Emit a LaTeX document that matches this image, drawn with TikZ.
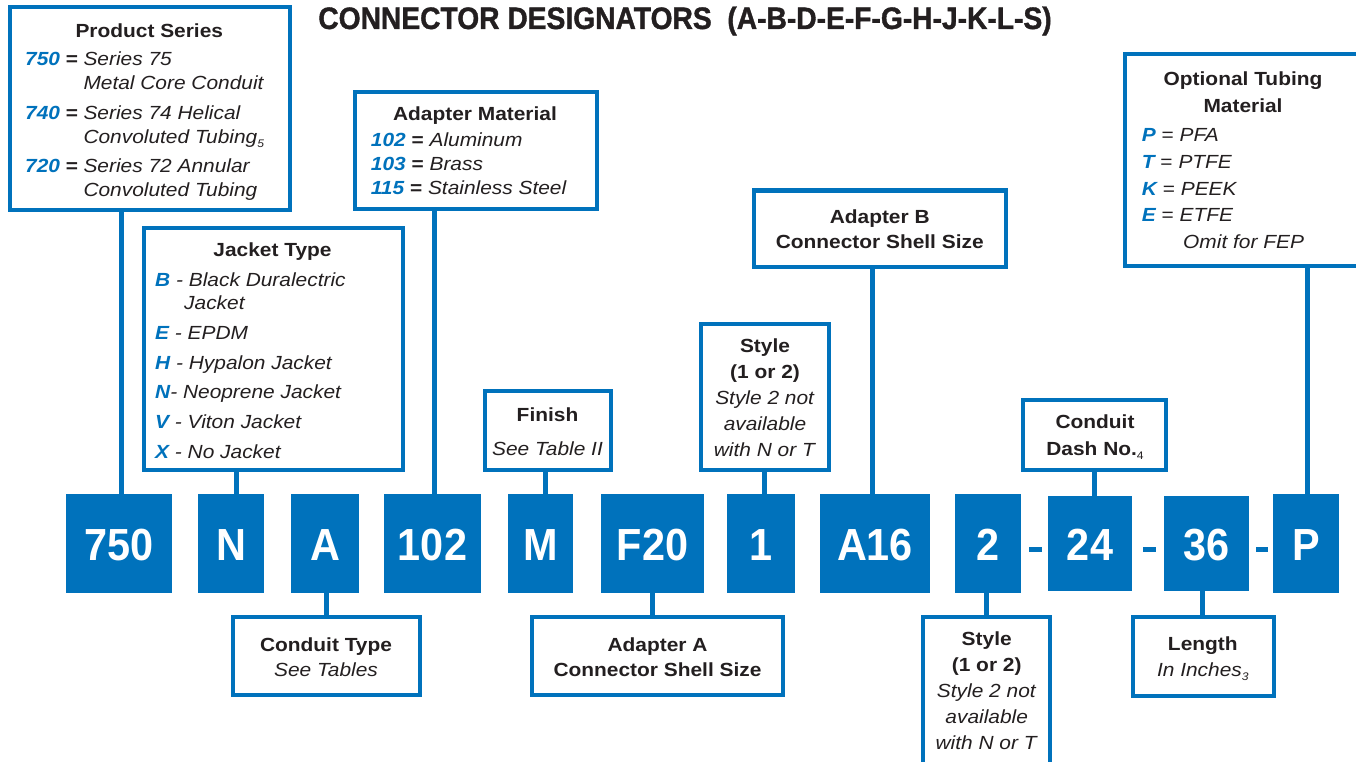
\documentclass[tikz,border=0pt]{standalone}
\usepackage{fontspec}
\setmainfont{Liberation Sans}[FakeStretch=1.1]
\newfontfamily\titlefont{Liberation Sans}[FakeStretch=0.91,FakeBold=1.2]
\newfontfamily\boxfont{Liberation Sans}[FakeStretch=0.92]
\usetikzlibrary{fit}
\definecolor{cblue}{RGB}{0,114,188}
\definecolor{ink}{RGB}{35,31,32}
\newcommand\kb[1]{\textcolor{cblue}{\bfseries\itshape #1}}
\newcommand\sbs[1]{\raisebox{-4pt}{\fontsize{11}{11}\selectfont\mdseries #1}}
\newcommand\fsz[1]{\fontsize{19}{#1}\selectfont}
\begin{document}
\begin{tikzpicture}[x=1pt,y=-1pt,
  lbl/.style={draw=cblue, line width=4pt, fill=white, inner sep=0pt, rectangle},
  code/.style={fill=cblue, draw=none, inner sep=0pt, rectangle, text=white,
    font=\boxfont\bfseries\fontsize{45}{45}\selectfont, text height=35.2pt, text depth=0pt},
  wire/.style={draw=cblue, line width=5pt},
  txt/.style={inner sep=0pt, text=ink, font=\fsz{23.7}},
  dashbar/.style={fill=cblue, draw=none, inner sep=0pt, minimum width=12.7pt, minimum height=5pt}]
\useasboundingbox (0,0) rectangle (1356,762);
\clip (0,0) rectangle (1356,762);
\fill[white] (0,0) rectangle (1356,762);

% title
\node[inner sep=0pt, anchor=base, text=ink, font=\titlefont\bfseries\fontsize{31}{31}\selectfont] (title) at (685,29)
  {CONNECTOR DESIGNATORS\ \ (A-B-D-E-F-G-H-J-K-L-S)};

% code boxes
\node[code, minimum width=106pt, minimum height=98.7pt] (b750) at (118.7,543.35) {750};
\node[code, minimum width=66pt, minimum height=98.7pt] (bN) at (231.3,543.35) {N};
\node[code, minimum width=67.7pt, minimum height=98.7pt] (bA) at (325.15,543.35) {A};
\node[code, minimum width=97pt, minimum height=98.7pt] (b102) at (432.5,543.35) {102};
\node[code, minimum width=65pt, minimum height=98.7pt] (bM) at (540.5,543.35) {M};
\node[code, minimum width=103pt, minimum height=98.7pt] (bF) at (652.5,543.35) {F20};
\node[code, minimum width=68pt, minimum height=98.7pt] (b1) at (761,543.35) {1};
\node[code, minimum width=110pt, minimum height=98.7pt] (bA16) at (875,543.35) {A16};
\node[code, minimum width=65.7pt, minimum height=98.7pt] (b2) at (987.85,543.35) {2};
\node[code, minimum width=84.6pt, minimum height=94.7pt] (b24) at (1090,543.35) {24};
\node[code, minimum width=85pt, minimum height=94.7pt] (b36) at (1206.5,543.35) {36};
\node[code, minimum width=65.7pt, minimum height=98.7pt] (bP) at (1306.15,543.35) {P};
\node[dashbar] (d1) at (1035.3,549.2) {};
\node[dashbar] (d2) at (1149.5,549.2) {};
\node[dashbar] (d3) at (1262,549.2) {};

% label boxes
\node[lbl, fit={(9.5,7) (289.5,209.5)}] (ps) {};
\node[lbl, fit={(143.7,228) (402.8,470)}] (jt) {};
\node[lbl, fit={(355.3,92) (597,208.7)}] (am) {};
\node[lbl, fit={(484.7,391.3) (610.5,470.3)}] (fin) {};
\node[lbl, fit={(701,324) (828.7,470.3)}] (st1) {};
\node[lbl, fit={(753.8,190.5) (1005.5,267.2)}] (ab) {};
\node[lbl, fit={(1022.8,399.5) (1166.2,469.5)}] (cd) {};
\node[lbl, fit={(1124.7,53.8) (1372,265.5)}] (ot) {};
\node[lbl, fit={(232.7,617.2) (420.3,694.5)}] (ct) {};
\node[lbl, fit={(532,617.2) (783,694.5)}] (aa) {};
\node[lbl, fit={(922.8,617.2) (1049.8,776)}] (st2) {};
\node[lbl, fit={(1132.8,617.2) (1273.8,695.5)}] (len) {};

% connectors
\draw[wire] ([xshift=3pt]b750.north) -- ([xshift=3pt]b750.north |- ps.south);
\draw[wire] ([xshift=5.3pt]bN.north) -- ([xshift=5.3pt]bN.north |- jt.south);
\draw[wire] ([xshift=1pt]bA.south) -- ([xshift=1pt]bA.south |- ct.north);
\draw[wire] ([xshift=1.7pt]b102.north) -- ([xshift=1.7pt]b102.north |- am.south);
\draw[wire] ([xshift=4.5pt]bM.north) -- ([xshift=4.5pt]bM.north |- fin.south);
\draw[wire] (bF.south) -- (bF.south |- aa.north);
\draw[wire] ([xshift=3.8pt]b1.north) -- ([xshift=3.8pt]b1.north |- st1.south);
\draw[wire] ([xshift=-2.5pt]bA16.north) -- ([xshift=-2.5pt]bA16.north |- ab.south);
\draw[wire] ([xshift=-1pt]b2.south) -- ([xshift=-1pt]b2.south |- st2.north);
\draw[wire] ([xshift=4pt]b24.north) -- ([xshift=4pt]b24.north |- cd.south);
\draw[wire] ([xshift=-4pt]b36.south) -- ([xshift=-4pt]b36.south |- len.north);
\draw[wire] ([xshift=1.3pt]bP.north) -- ([xshift=1.3pt]bP.north |- ot.south);

% Product Series
\node[txt, anchor=base, font=\fsz{23.7}\bfseries] (psh) at (149.3,38) {Product Series};
\node[txt, anchor=base west] (psl) at (25,66) {\begin{tabular}[t]{@{}l@{}}
\makebox[58.3pt][l]{\kb{750} \textbf{=}}\textit{Series 75}\\
\hspace*{58.3pt}\textit{Metal Core Conduit}\\[6pt]
\makebox[58.3pt][l]{\kb{740} \textbf{=}}\textit{Series 74 Helical}\\
\hspace*{58.3pt}\textit{Convoluted Tubing\sbs{5}}\\[6pt]
\makebox[58.3pt][l]{\kb{720} \textbf{=}}\textit{Series 72 Annular}\\
\hspace*{58.3pt}\textit{Convoluted Tubing}
\end{tabular}};

% Jacket Type
\node[txt, anchor=base, font=\fsz{23.7}\bfseries] (jth) at (272.5,256) {Jacket Type};
\node[txt, anchor=base west] (jtl) at (155,286) {\begin{tabular}[t]{@{}l@{}}
\kb{B}\textit{ - Black Duralectric}\\
\hspace*{29pt}\textit{Jacket}\\[6pt]
\kb{E}\textit{ - EPDM}\\[6pt]
\kb{H}\textit{ - Hypalon Jacket}\\[6pt]
\kb{N}\textit{- Neoprene Jacket}\\[6pt]
\kb{V}\textit{ - Viton Jacket}\\[6pt]
\kb{X}\textit{ - No Jacket}
\end{tabular}};

% Adapter Material
\node[txt, anchor=base, font=\fsz{23.7}\bfseries] (amh) at (475,120.7) {Adapter Material};
\node[txt, anchor=base west] (aml) at (370.7,146.7) {\begin{tabular}[t]{@{}l@{}}
\kb{102} \textbf{=} \textit{Aluminum}\\
\kb{103} \textbf{=} \textit{Brass}\\
\kb{115} \textbf{=} \textit{Stainless Steel}
\end{tabular}};

% Optional Tubing Material
\node[txt, anchor=base, font=\fsz{26.7}] (oth) at (1243,86) {\begin{tabular}[t]{@{}c@{}}
\textbf{Optional Tubing}\\\textbf{Material}\end{tabular}};
\node[txt, anchor=base west, font=\fsz{26.7}] (otl) at (1141.7,141.7) {\begin{tabular}[t]{@{}l@{}}
\kb{P} = \textit{PFA}\\
\kb{T} = \textit{PTFE}\\
\kb{K} = \textit{PEEK}\\
\kb{E} = \textit{ETFE}\\
\hspace*{41.3pt}\textit{Omit for FEP}
\end{tabular}};

% Finish
\node[txt, anchor=base, font=\fsz{33.3}] (fint) at (547.5,421.7) {\begin{tabular}[t]{@{}c@{}}
\textbf{Finish}\\\textit{See Table II}\end{tabular}};

% Style (top)
\node[txt, anchor=base, font=\fsz{26.2}] (st1t) at (765,352) {\begin{tabular}[t]{@{}c@{}}
\textbf{Style}\\\textbf{(1 or 2)}\\\textit{Style 2 not}\\\textit{available}\\\textit{with N or T}\end{tabular}};

% Adapter B
\node[txt, anchor=base, font=\fsz{25}] (abt) at (879.7,223) {\begin{tabular}[t]{@{}c@{}}
\textbf{Adapter B}\\\textbf{Connector Shell Size}\end{tabular}};

% Conduit Dash No.
\node[txt, anchor=base, font=\fsz{26.7}] (cdt) at (1095,428.3) {\begin{tabular}[t]{@{}c@{}}
\textbf{Conduit}\\\textbf{Dash No.\sbs{4}}\end{tabular}};

% Conduit Type
\node[txt, anchor=base, font=\fsz{25}] (ctt) at (326,651) {\begin{tabular}[t]{@{}c@{}}
\textbf{Conduit Type}\\\textit{See Tables}\end{tabular}};

% Adapter A
\node[txt, anchor=base, font=\fsz{25}] (aat) at (657.5,651) {\begin{tabular}[t]{@{}c@{}}
\textbf{Adapter A}\\\textbf{Connector Shell Size}\end{tabular}};

% Style (bottom)
\node[txt, anchor=base, font=\fsz{26}] (st2t) at (986.7,645) {\begin{tabular}[t]{@{}c@{}}
\textbf{Style}\\\textbf{(1 or 2)}\\\textit{Style 2 not}\\\textit{available}\\\textit{with N or T}\end{tabular}};

% Length
\node[txt, anchor=base, font=\fsz{25.3}] (lent) at (1202.8,650.7) {\begin{tabular}[t]{@{}c@{}}
\textbf{Length}\\\textit{In Inches\sbs{3}}\end{tabular}};
\end{tikzpicture}
\end{document}
